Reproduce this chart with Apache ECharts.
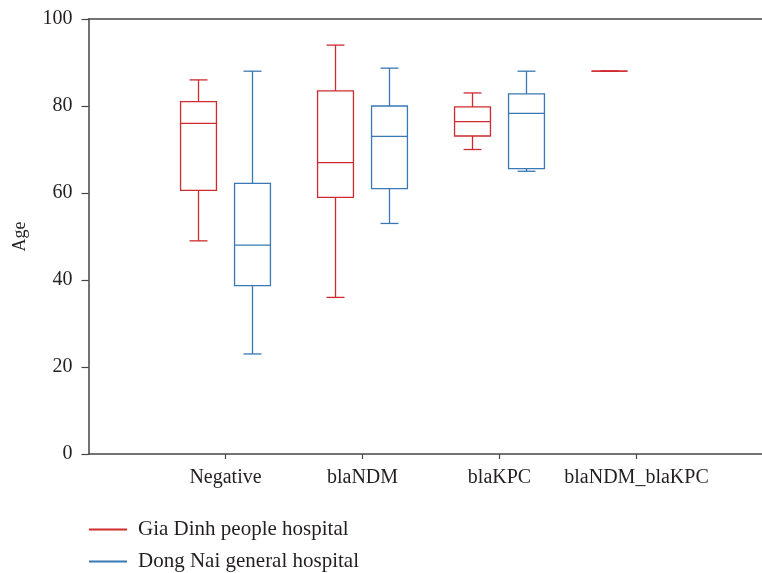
<!DOCTYPE html>
<html>
<head>
<meta charset="utf-8">
<script src="https://cdn.jsdelivr.net/npm/echarts@6/dist/echarts.min.js"></script>
<style>
html,body{margin:0;padding:0;background:#fff;}
#chart{width:762px;height:573px;}
</style>
</head>
<body>
<div id="chart"></div>
<script>
// ---- data ----
var categories = ['Negative', 'blaNDM', 'blaKPC', 'blaNDM_blaKPC'];
var seriesNames = ['Gia Dinh people hospital', 'Dong Nai general hospital'];
// [min, Q1, median, Q3, max]
var giaDinh = [
  [49, 60.6, 76, 81, 86],
  [36, 59, 67, 83.5, 94],
  [70, 73.1, 76.4, 79.8, 83],
  [88, 88, 88, 88, 88]
];
var dongNai = [
  [23, 38.7, 48, 62.2, 88],
  [53, 61, 73, 80, 88.7],
  [65, 65.6, 78.3, 82.8, 88],
  null
];
var yTicks = [0, 20, 40, 60, 80, 100];

var RED = '#cf2a2e';
var BLUE = '#3878b4';
var FONT = 'Liberation Serif';
var TEXT = '#231f20';
var AXIS = '#454545';

function buildData(arr) {
  var out = [];
  arr.forEach(function (v, i) {
    if (v) out.push([i + 1].concat(v));
  });
  return out;
}

function makeRender(color, offFrac) {
  return function (params, api) {
    var x = api.value(0);
    var band = api.size([1, 0])[0];
    var bw = band * 0.262;
    var hw = bw / 2, cw = bw / 4;
    var p = api.coord([x, api.value(1)]);
    var cx = p[0] + band * offFrac;
    var yMin = p[1];
    var yQ1 = api.coord([x, api.value(2)])[1];
    var yMed = api.coord([x, api.value(3)])[1];
    var yQ3 = api.coord([x, api.value(4)])[1];
    var yMax = api.coord([x, api.value(5)])[1];
    var st = { stroke: color, lineWidth: 1.3, fill: null };
    function ln(x1, y1, x2, y2) {
      return { type: 'line', shape: { x1: x1, y1: y1, x2: x2, y2: y2 }, style: st };
    }
    return {
      type: 'group',
      children: [
        { type: 'rect', shape: { x: cx - hw, y: yQ3, width: bw, height: yQ1 - yQ3 }, style: st },
        ln(cx - hw, yMed, cx + hw, yMed),
        ln(cx, yQ3, cx, yMax),
        ln(cx, yQ1, cx, yMin),
        ln(cx - cw, yMax, cx + cw, yMax),
        ln(cx - cw, yMin, cx + cw, yMin)
      ]
    };
  };
}

var chart = echarts.init(document.getElementById('chart'), null, { renderer: 'canvas' });
var gridW = 762 - 88.5;
var xMax = gridW / 137;

function legendFor(i, color, top) {
  return {
    orient: 'vertical',
    left: 84,
    top: top,
    itemWidth: 38,
    itemHeight: 2,
    icon: 'rect',
    textStyle: { fontFamily: FONT, fontSize: 21, color: TEXT, lineHeight: 20, padding: [0, 0, 0, 6] },
    data: [{ name: seriesNames[i], itemStyle: { color: color } }]
  };
}

chart.setOption({
  backgroundColor: '#fff',
  animation: false,
  grid: { left: 88.5, right: 0, top: 19, bottom: 119, containLabel: false, outerBoundsMode: 'none' },
  legend: [legendFor(0, RED, 514), legendFor(1, BLUE, 546)],
  xAxis: [
    {
      type: 'value',
      min: 0,
      max: xMax,
      position: 'bottom',
      splitLine: { show: false },
      axisLine: { show: true, lineStyle: { color: AXIS, width: 1.5 } },
      axisTick: { show: true, length: 5, lineStyle: { color: AXIS, width: 1.2 }, customValues: [1, 2, 3, 4] },
      axisLabel: {
        customValues: [1, 2, 3, 4],
        formatter: function (v) { return categories[Math.round(v) - 1] || ''; },
        fontFamily: FONT, fontSize: 20, color: TEXT, margin: 14
      }
    },
    {
      type: 'value',
      min: 0,
      max: xMax,
      position: 'top',
      splitLine: { show: false },
      axisLine: { show: true, lineStyle: { color: AXIS, width: 1.5 } },
      axisTick: { show: false },
      axisLabel: { show: false }
    }
  ],
  yAxis: {
    type: 'value',
    min: 0,
    max: 100,
    interval: 20,
    name: 'Age',
    nameLocation: 'middle',
    nameGap: 59,
    nameTextStyle: { fontFamily: FONT, fontSize: 18, color: TEXT },
    splitLine: { show: false },
    axisLine: { show: true, lineStyle: { color: AXIS, width: 1.5 } },
    axisTick: { show: true, length: 7, lineStyle: { color: AXIS, width: 1.2 } },
    axisLabel: {
      fontFamily: FONT, fontSize: 20, color: TEXT, margin: 16,
      formatter: function (v) { return yTicks.indexOf(v) >= 0 ? String(v) : ''; }
    }
  },
  series: [
    {
      name: seriesNames[0],
      type: 'custom',
      xAxisIndex: 0,
      itemStyle: { color: RED },
      encode: { x: 0, y: [1, 2, 3, 4, 5] },
      data: buildData(giaDinh),
      renderItem: makeRender(RED, -0.197)
    },
    {
      name: seriesNames[1],
      type: 'custom',
      xAxisIndex: 0,
      itemStyle: { color: BLUE },
      encode: { x: 0, y: [1, 2, 3, 4, 5] },
      data: buildData(dongNai),
      renderItem: makeRender(BLUE, 0.197)
    }
  ]
});
</script>
</body>
</html>
